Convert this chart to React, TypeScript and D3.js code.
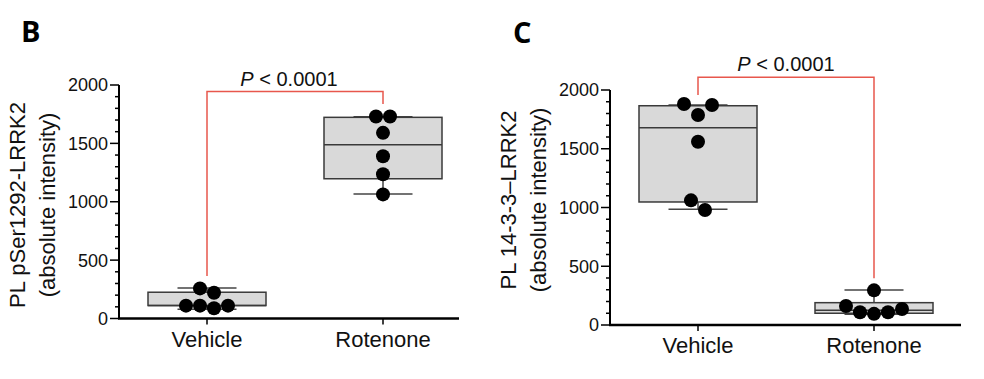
import React from "react";
import * as d3 from "d3";

const categories = ["Vehicle", "Rotenone"];
const yTicks = [0, 500, 1000, 1500, 2000];
const yMinorTicks = d3.range(0, 2001, 100);

// Panel B: PL pSer1292-LRRK2
const bVehicle = [258, 220, 110, 88, 110, 110];
const bRotenone = [1730, 1730, 1590, 1390, 1235, 1063];
// box stats: [min, q1, median, q3, max]
const bVehicleBox = [80, 111, 112, 225, 262];
const bRotenoneBox = [1066, 1197, 1488, 1723, 1728];
// bracket: [top, left end, right end]
const bBracket = [1944, 363, 1837];

// Panel C: PL 14-3-3–LRRK2
const cVehicle = [1881, 1872, 1787, 1560, 1061, 979];
const cRotenone = [295, 162, 108, 95, 108, 136];
const cVehicleBox = [985, 1047, 1679, 1866, 1872];
const cRotenoneBox = [92, 100, 125, 190, 298];
const cBracket = [2108, 1957, 397];

const pText = "< 0.0001";

type PanelProps = {
  letter: string;
  letterX: number;
  letterY: number;
  axisX: number;
  y0: number;
  y2000: number;
  axisEnd: number;
  titleLines: string[];
  titleCenterY: number;
  groups: number[][];
  boxes: number[][];
  bracket: number[];
  pDx: number;
};

const FONT = "'Liberation Sans', Arial, sans-serif";

function swarm(values: number[], y: (v: number) => number, d: number, thr: number) {
  const idx = values.map((_, i) => i).sort((a, b) => values[b] - values[a]);
  const rows: number[][] = [];
  let cur: number[] = [];
  idx.forEach((i, k) => {
    if (k === 0 || Math.abs(y(values[i]) - y(values[cur[cur.length - 1]])) < thr) cur.push(i);
    else {
      rows.push(cur);
      cur = [i];
    }
  });
  if (cur.length) rows.push(cur);
  const off = new Array(values.length).fill(0);
  rows.forEach((row) => {
    const n = row.length;
    const slots = d3.range(n).map((i) => (i - (n - 1) / 2) * d);
    const order: number[] = [];
    let l = 0, r = n - 1;
    while (l <= r) {
      order.push(slots[l]);
      if (r !== l) order.push(slots[r]);
      l++;
      r--;
    }
    row.forEach((i, k) => (off[i] = order[k]));
  });
  return off;
}

function Panel(p: PanelProps) {
  const y = d3.scaleLinear().domain([0, 2000]).range([p.y0, p.y2000]);
  const x = d3
    .scalePoint<string>()
    .domain(categories)
    .range([p.axisX, p.axisX + 352])
    .padding(0.5);
  const halfBox = 59;
  const halfCap = 29.5;
  const r = 7;
  const [bTop, bLeft, bRight] = p.bracket;
  const xl = x(categories[0])!;
  const xr = x(categories[1])!;
  return (
    <g>
      <text x={p.letterX} y={p.letterY} fontFamily="'Open Sans', Arial, sans-serif" fontWeight={700} fontSize={29} fill="#000">
        {p.letter}
      </text>
      {/* boxes */}
      {categories.map((c, i) => {
        const [mn, q1, md, q3, mx] = p.boxes[i];
        const cx = x(c)!;
        return (
          <g key={c}>
            <line x1={cx} x2={cx} y1={y(mx)} y2={y(q3)} stroke="#444" strokeWidth={1.5} />
            <line x1={cx} x2={cx} y1={y(q1)} y2={y(mn)} stroke="#444" strokeWidth={1.5} />
            <line x1={cx - halfCap} x2={cx + halfCap} y1={y(mx)} y2={y(mx)} stroke="#444" strokeWidth={1.5} />
            <line x1={cx - halfCap} x2={cx + halfCap} y1={y(mn)} y2={y(mn)} stroke="#444" strokeWidth={1.5} />
            <rect x={cx - halfBox} y={y(q3)} width={halfBox * 2} height={y(q1) - y(q3)} fill="#d9d9d9" stroke="#3a3a3a" strokeWidth={1.5} />
            <line x1={cx - halfBox} x2={cx + halfBox} y1={y(md)} y2={y(md)} stroke="#3a3a3a" strokeWidth={1.5} />
          </g>
        );
      })}
      {/* bracket */}
      <path
        d={`M${xl},${y(bLeft)}V${y(bTop)}H${xr}V${y(bRight)}`}
        fill="none"
        stroke="#e8574c"
        strokeWidth={1.5}
      />
      <text x={(xl + xr) / 2 + p.pDx} y={y(bTop) - 6} textAnchor="middle" fontFamily={FONT} fontSize={20} fill="#111">
        <tspan fontStyle="italic">P</tspan> {pText}
      </text>
      {/* dots */}
      {categories.map((c, i) => {
        const vals = p.groups[i];
        const off = swarm(vals, y, 14, 12);
        return vals.map((v, k) => (
          <circle key={c + k} cx={x(c)! + off[k]} cy={y(v)} r={r} fill="#000" />
        ));
      })}
      {/* y axis */}
      <line x1={p.axisX} x2={p.axisX} y1={y(0)} y2={y(2000)} stroke="#000" strokeWidth={2} />
      {yMinorTicks.map((t) => (
        <line key={t} x1={p.axisX - (t % 500 === 0 ? 9 : 4)} x2={p.axisX} y1={y(t)} y2={y(t)} stroke="#000" strokeWidth={1.5} />
      ))}
      {yTicks.map((t) => (
        <text key={t} x={p.axisX - 11} y={y(t)} dy="0.36em" textAnchor="end" fontFamily={FONT} fontSize={18} fill="#111">
          {t}
        </text>
      ))}
      {/* x axis */}
      <line x1={p.axisX - 1} x2={p.axisEnd} y1={y(0)} y2={y(0)} stroke="#000" strokeWidth={2.5} />
      {categories.map((c) => (
        <g key={c}>
          <line x1={x(c)!} x2={x(c)!} y1={y(0)} y2={y(0) + 6} stroke="#000" strokeWidth={1.5} />
          <text x={x(c)!} y={y(0) + 28} textAnchor="middle" fontFamily={FONT} fontSize={22} fill="#111">
            {c}
          </text>
        </g>
      ))}
      {/* y title */}
      {p.titleLines.map((t, i) => (
        <text
          key={i}
          transform={`translate(${p.axisX - 94 + i * 30},${p.titleCenterY}) rotate(-90)`}
          textAnchor="middle"
          fontFamily={FONT}
          fontSize={22}
          fill="#111"
        >
          {t}
        </text>
      ))}
    </g>
  );
}

export default function App() {
  return (
    <svg width={984} height={379} style={{ position: "absolute", left: 0, top: 0, background: "#fff" }}>
      <rect width={984} height={379} fill="#fff" />
      <Panel
        letter="B"
        letterX={21}
        letterY={42}
        axisX={119}
        y0={318.5}
        y2000={85}
        axisEnd={459}
        titleLines={["PL pSer1292-LRRK2", "(absolute intensity)"]}
        titleCenterY={205}
        groups={[bVehicle, bRotenone]}
        boxes={[bVehicleBox, bRotenoneBox]}
        bracket={bBracket}
        pDx={-6}
      />
      <Panel
        letter="C"
        letterX={513}
        letterY={43}
        axisX={610}
        y0={325}
        y2000={90}
        axisEnd={961}
        titleLines={["PL 14-3-3–LRRK2", "(absolute intensity)"]}
        titleCenterY={200}
        groups={[cVehicle, cRotenone]}
        boxes={[cVehicleBox, cRotenoneBox]}
        bracket={cBracket}
        pDx={0}
      />
    </svg>
  );
}
